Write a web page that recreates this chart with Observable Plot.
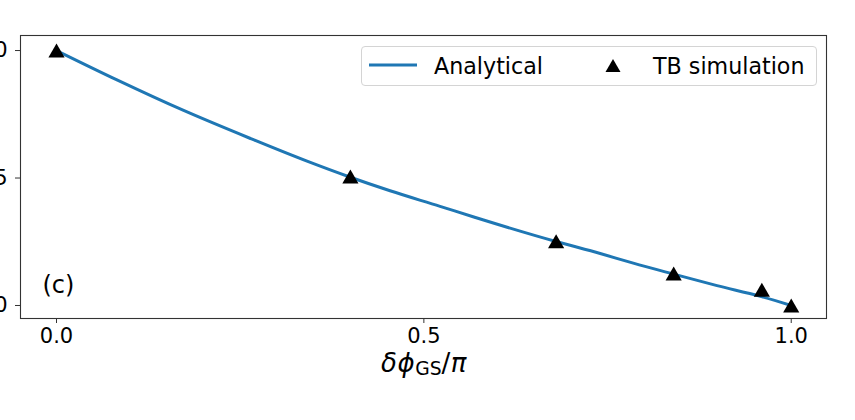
<!DOCTYPE html>
<html>
<head>
<meta charset="utf-8">
<script src="https://cdn.jsdelivr.net/npm/d3@7"></script>
<script src="https://cdn.jsdelivr.net/npm/@observablehq/plot@0.6"></script>
<style>
  body { margin: 0; background: white; font-family: "DejaVu Sans", sans-serif; }
  #wrap { position: relative; width: 855px; height: 420px; overflow: hidden; background: white; }
  #legend { position: absolute; left: 361px; top: 46px; width: 456px; height: 40px; box-sizing: border-box;
            border: 1px solid #d4d4d4; border-radius: 4px; background: rgba(255,255,255,0.8);
            font-size: 22.2px; color: black; }
  #legend .item { position: absolute; top: 0; height: 38px; line-height: 38px; white-space: nowrap; }
  #xlabel { position: absolute; top: 348px; left: 424px; transform: translateX(-50%); font-size: 26px;
            color: black; white-space: nowrap; font-family: "DejaVu Sans", sans-serif; letter-spacing: 0.5px; }
  #xlabel i { font-style: italic; }
  #xlabel sub { font-size: 0.72em; vertical-align: -0.16em; font-style: normal; letter-spacing: 0; }
</style>
</head>
<body>
<div id="wrap"></div>
<script>
// Analytical curve
const analyticalX = [0, 0.083, 0.173, 0.264, 0.341, 0.4, 0.454, 0.522, 0.568, 0.681, 0.740, 0.785, 0.840, 0.899, 0.958, 1.0];
const analyticalY = [1.0, 0.884, 0.765, 0.655, 0.566, 0.503, 0.450, 0.389, 0.347, 0.250, 0.204, 0.166, 0.123, 0.078, 0.036, 0.0];
// TB simulation points
const simX = [0, 0.4, 0.68, 0.84, 0.96, 1.0];
const simY = [1.0, 0.506, 0.252, 0.125, 0.062, 0.0];
// Ticks and labels
const xTicks = [0, 0.5, 1.0];
const yTicks = [0, 0.5, 1.0];
const legendLabels = ["Analytical", "TB simulation"];
const panelLabel = "(c)";

const analytical = analyticalX.map((x, i) => ({x, y: analyticalY[i]}));
const sim = simX.map((x, i) => ({x, y: simY[i]}));

const blue = "#1f77b4";
const axisColor = "#333";

const chart = Plot.plot({
  width: 855,
  height: 345,
  marginLeft: 20,
  marginRight: 29,
  marginTop: 35,
  marginBottom: 27,
  style: {fontFamily: "DejaVu Sans", fontSize: "21px", color: "black", background: "white", overflow: "visible"},
  x: {domain: [-0.049, 1.048]},
  y: {domain: [-0.051, 1.059]},
  marks: [
    Plot.line(analytical, {x: "x", y: "y", stroke: blue, strokeWidth: 3, curve: "monotone-x"}),
    Plot.dot(sim, {x: "x", y: "y", symbol: "triangle", fill: "black", stroke: "none", r: 6, dy: 2.3}),
    Plot.frame({stroke: axisColor, strokeWidth: 1.1}),
    Plot.axisX({ticks: xTicks, tickFormat: d3.format(".1f"), tickSize: 5, tickPadding: 5, label: null,
                stroke: axisColor, fontSize: 21, fill: "black"}),
    Plot.axisY({ticks: yTicks, tickFormat: d3.format(".1f"), tickSize: 5, tickPadding: 8, label: null,
                stroke: axisColor, fontSize: 21, fill: "black"}),
    Plot.text([panelLabel], {text: d => d, frameAnchor: "bottom-left", dx: 22, dy: -26,
                textAnchor: "start", fontSize: 24, fill: "black"})
  ]
});

const wrap = document.getElementById("wrap");
wrap.appendChild(chart);

// Legend (inside the plot area, upper right)
const legend = document.createElement("div");
legend.id = "legend";
legend.innerHTML = `
  <div class="item" style="left:6px;"><svg width="50" height="38"><line x1="1" x2="49" y1="18" y2="18" stroke="${blue}" stroke-width="3"/></svg></div>
  <div class="item" style="left:72px;">${legendLabels[0]}</div>
  <div class="item" style="left:242px;"><svg width="18" height="38"><path d="M9,12 L16.5,25 L1.5,25 Z" fill="black"/></svg></div>
  <div class="item" style="left:291px;">${legendLabels[1]}</div>`;
wrap.appendChild(legend);

// x-axis label with subscript
const xl = document.createElement("div");
xl.id = "xlabel";
xl.innerHTML = `<i>δϕ</i><sub>GS</sub>/<i>π</i>`;
wrap.appendChild(xl);
</script>
</body>
</html>
